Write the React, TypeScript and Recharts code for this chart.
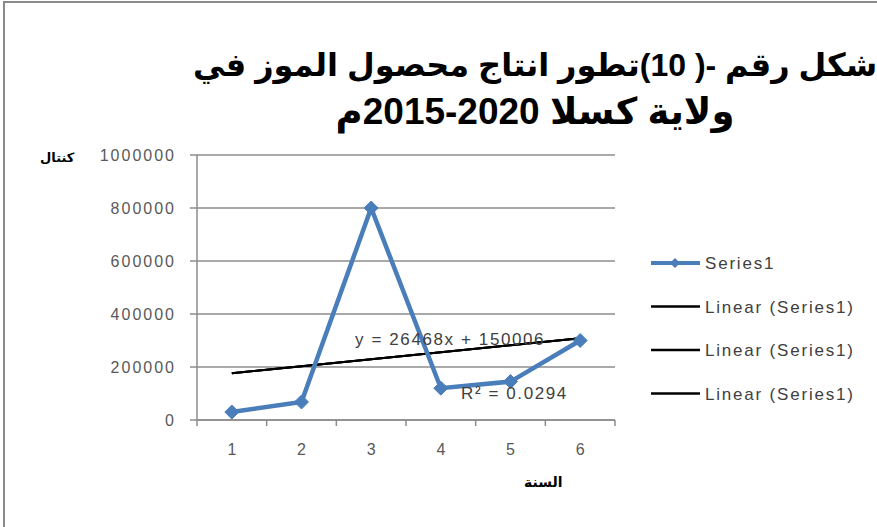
import {
  LineChart,
  Line,
  XAxis,
  YAxis,
  CartesianGrid,
} from "recharts";

const years = [1, 2, 3, 4, 5, 6];
const production = [30000, 68000, 800000, 120000, 145000, 300000];
const yTicks = [0, 200000, 400000, 600000, 800000, 1000000];
const xTicks = [0.5, 1, 1.5, 2, 2.5, 3, 3.5, 4, 4.5, 5, 5.5, 6, 6.5];
const legendLabels = ["Series1", "Linear (Series1)", "Linear (Series1)", "Linear (Series1)"];

// trendline coefficients as printed on the chart
const trendSlope = 26468;
const trendIntercept = 150006;

const data = years.map((x, i) => ({
  x,
  value: production[i],
  trend: trendSlope * x + trendIntercept,
}));

const BLUE = "#4a7ebb";
const GRID = "#8c8c8c";
const TXT = "#595959";
const FONT = "Liberation Sans, Arial, sans-serif";

const Diamond = (props: any) => {
  const { cx, cy } = props;
  if (cx == null || cy == null) return null;
  const r = 7;
  return (
    <polygon
      points={`${cx},${cy - r} ${cx + r},${cy} ${cx},${cy + r} ${cx - r},${cy}`}
      fill={BLUE}
      stroke={BLUE}
    />
  );
};

const XTick = (props: any) => {
  const { x, y, payload } = props;
  if (Number.isInteger(payload.value)) {
    return (
      <text x={x} y={y + 35} textAnchor="middle" fill={TXT} fontSize={16} fontFamily={FONT}>
        {payload.value}
      </text>
    );
  }
  return <line x1={x} x2={x} y1={y} y2={y + 6} stroke={GRID} strokeWidth={1.5} />;
};

const LegendBox = () => (
  <svg width={230} height={170}>
    {legendLabels.map((label, i) => {
      const y = 13 + i * 43.5;
      const first = i === 0;
      return (
        <g key={i}>
          <line
            x1={1}
            x2={50}
            y1={y}
            y2={y}
            stroke={first ? BLUE : "#000"}
            strokeWidth={first ? 4 : 2.5}
          />
          {first && <polygon points={`25,${y - 5} 30,${y} 25,${y + 5} 20,${y}`} fill={BLUE} />}
          <text x={55} y={y + 6} fontSize={17} fill="#404040" fontFamily={FONT} letterSpacing={1.8}>
            {label}
          </text>
        </g>
      );
    })}
  </svg>
);

export default function App() {
  return (
    <div
      style={{
        position: "absolute",
        left: 0,
        top: 0,
        width: 877,
        height: 527,
        background: "#fff",
        overflow: "hidden",
      }}
    >
      <div
        style={{
          position: "absolute",
          left: 3,
          top: 1,
          width: 900,
          height: 600,
          borderTop: "2px solid #8a8a8a",
          borderLeft: "2px solid #8a8a8a",
        }}
      />
      <div
        style={{
          position: "absolute",
          left: 185,
          top: 42,
          width: 700,
          textAlign: "center",
          fontFamily: "Liberation Sans, Arial, DejaVu Sans, sans-serif",
          fontWeight: "bold",
          fontSize: 32,
          lineHeight: "46px",
          whiteSpace: "nowrap",
          color: "#000",
        }}
      >
        <div>شكل رقم  -( 10)تطور انتاج محصول الموز في</div>
        <div style={{ fontSize: 37, marginTop: 1 }}>
          ولاية كسلا <span style={{ unicodeBidi: "isolate", direction: "ltr" }}>2015-2020</span>م
        </div>
      </div>
      <div
        style={{
          position: "absolute",
          left: 40,
          top: 150,
          fontSize: 13,
          fontWeight: "bold",
          fontFamily: "DejaVu Sans, sans-serif",
        }}
      >
        كنتال
      </div>
      <div
        style={{
          position: "absolute",
          left: 524,
          top: 474,
          fontSize: 14,
          fontWeight: "bold",
          fontFamily: "DejaVu Sans, sans-serif",
        }}
      >
        السنة
      </div>
      <LineChart
        width={877}
        height={527}
        data={data}
        margin={{ top: 155, right: 262, bottom: 77, left: 0 }}
        style={{ position: "absolute", left: 0, top: 0 }}
      >
        <CartesianGrid vertical={false} stroke={GRID} strokeWidth={1.5} />
        <XAxis
          dataKey="x"
          type="number"
          domain={[0.5, 6.5]}
          ticks={xTicks}
          interval={0}
          tickLine={false}
          tickSize={0}
          tickMargin={0}
          tick={<XTick />}
          stroke={GRID}
          strokeWidth={1.5}
          height={30}
        />
        <YAxis
          domain={[0, 1000000]}
          ticks={yTicks}
          interval={0}
          width={197}
          tickSize={7}
          tickMargin={14}
          stroke={GRID}
          strokeWidth={1.5}
          tick={{ fill: TXT, fontSize: 16, fontFamily: FONT, letterSpacing: 2 }}
        />
        <Line dataKey="trend" stroke="#000" strokeWidth={2} dot={false} isAnimationActive={false} />
        <Line dataKey="trend" stroke="#000" strokeWidth={2} dot={false} isAnimationActive={false} />
        <Line dataKey="trend" stroke="#000" strokeWidth={2} dot={false} isAnimationActive={false} />
        <Line
          dataKey="value"
          stroke={BLUE}
          strokeWidth={4.5}
          dot={<Diamond />}
          isAnimationActive={false}
        />
      </LineChart>
      <div style={{ position: "absolute", left: 650, top: 250 }}>
        <LegendBox />
      </div>
      <div
        style={{
          position: "absolute",
          left: 355,
          top: 330,
          fontSize: 17,
          color: "#404040",
          fontFamily: FONT,
          letterSpacing: 1.6,
        }}
      >
        y = 26468x + 150006
      </div>
      <div
        style={{
          position: "absolute",
          left: 461,
          top: 384,
          fontSize: 17,
          color: "#404040",
          fontFamily: FONT,
          letterSpacing: 1.6,
        }}
      >
        R² = 0.0294
      </div>
    </div>
  );
}
